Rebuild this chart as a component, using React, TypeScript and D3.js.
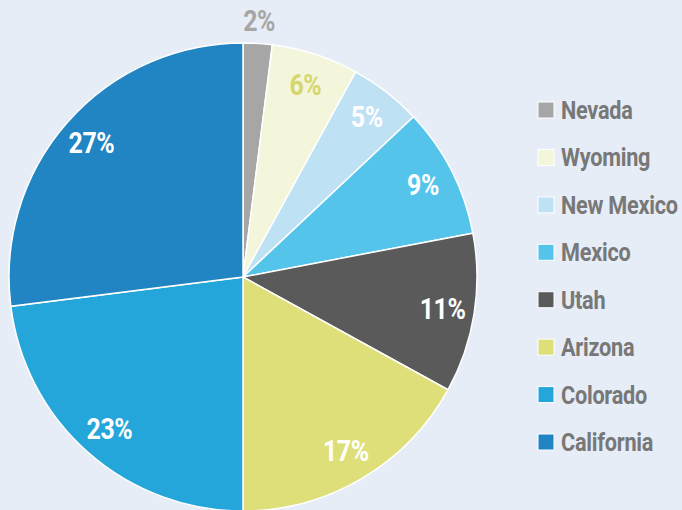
import React from "react";
import * as d3 from "d3";

const categories = ["Nevada", "Wyoming", "New Mexico", "Mexico", "Utah", "Arizona", "Colorado", "California"];
const values = [2, 6, 5, 9, 11, 17, 23, 27];
const colors = ["#a6a6a6", "#f3f6da", "#bfe1f4", "#55c4eb", "#5a5a5a", "#dfdf79", "#24a6da", "#2184c3"];
const labelColors = ["#a6a6a6", "#d6d66e", "#ffffff", "#ffffff", "#ffffff", "#ffffff", "#ffffff", "#ffffff"];

const W = 682;
const H = 510;
const cx = 243;
const cy = 277;
const R = 234;
const FONT = "Roboto, 'Noto Sans', sans-serif";

export default function App() {
  const data = categories.map((c, i) => ({ name: c, value: values[i], color: colors[i], lc: labelColors[i] }));
  const pie = d3.pie<any>().value((d) => d.value).sort(null);
  const arcs = pie(data);
  const arc = d3.arc<any>().innerRadius(0).outerRadius(R);
  const labelArc = d3.arc<any>().innerRadius(202).outerRadius(202);
  const outArc = d3.arc<any>().innerRadius(257).outerRadius(257);

  const legendY = d3.scaleLinear().domain([0, categories.length - 1]).range([119, 451]);

  return (
    <svg width={W} height={H} style={{ position: "absolute", left: 0, top: 0, display: "block" }}>
      <rect width={W} height={H} fill="#e6edf7" />
      <g transform={`translate(${cx},${cy})`}>
        {arcs.map((a, i) => (
          <path key={i} d={arc(a) as string} fill={a.data.color} stroke="#ffffff" strokeWidth={1.5} />
        ))}
        {arcs.map((a, i) => {
          const [x, y] = i === 0 ? outArc.centroid(a) : labelArc.centroid(a);
          return (
            <text
              key={"l" + i}
              transform={`translate(${x},${y + 10}) scale(0.86,1)`}
              textAnchor="middle"
              fill={a.data.lc}
              fontFamily={FONT}
              fontWeight="bold"
              fontSize={29}
              letterSpacing={-0.5}
            >
              {a.data.value}%
            </text>
          );
        })}
      </g>
      <g>
        {categories.map((c, i) => (
          <g key={c}>
            <rect x={538} y={legendY(i) - 17} width={16} height={16} fill={colors[i]} stroke="#ffffff" strokeWidth={1} />
            <text
              transform={`translate(561,${legendY(i)}) scale(0.85,1)`}
              fill="#787878"
              fontFamily={FONT}
              fontWeight="bold"
              fontSize={25.5}
              letterSpacing={-0.3}
            >
              {c}
            </text>
          </g>
        ))}
      </g>
    </svg>
  );
}
